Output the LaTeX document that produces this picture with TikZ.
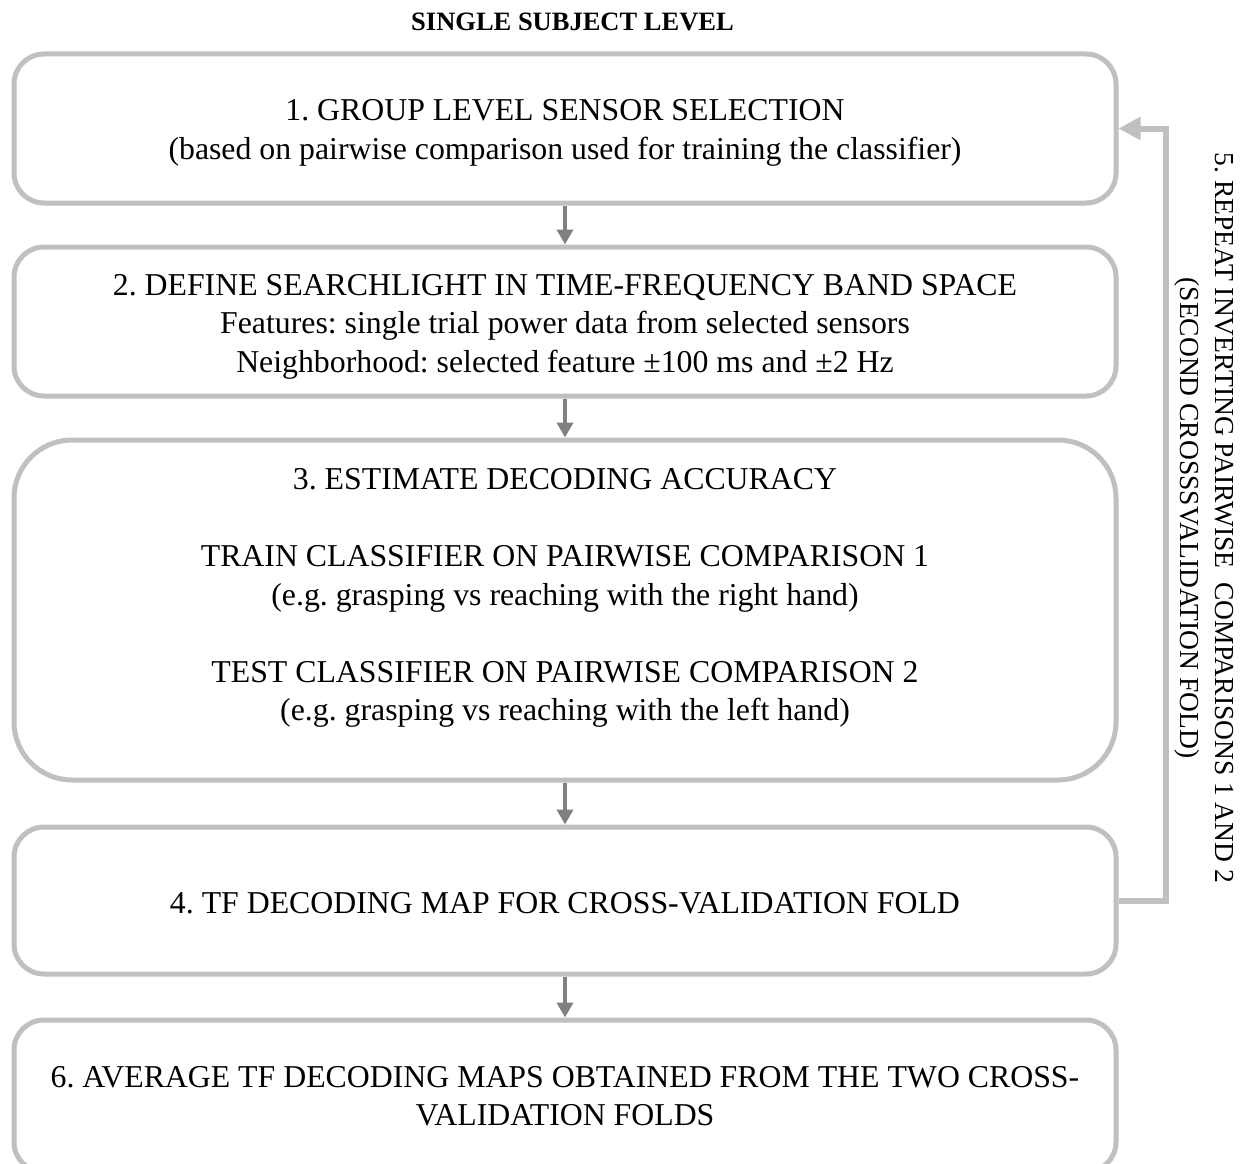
\documentclass[tikz,border=0pt]{standalone}
\usepackage{fontspec}
\setmainfont{Liberation Serif}
\frenchspacing
\usetikzlibrary{arrows.meta}
\definecolor{boxgray}{HTML}{C0C0C0}
\definecolor{arrgray}{HTML}{808080}
\tikzset{
  stepbox/.style={draw=boxgray, line width=5pt, rounded corners=30pt, minimum width=1102pt, inner sep=0pt},
  txt/.style={align=center, inner sep=0pt, font=\fontsize{31.8}{38.5}\selectfont},
  down/.style={draw=arrgray, line width=4pt, -{Triangle[width=16pt,length=15pt]}},
  back/.style={draw=boxgray, line width=6pt, -{Triangle[width=22pt,length=22pt]}},
}
\begin{document}
\begin{tikzpicture}[x=1pt,y=-1pt]
\useasboundingbox (0,0) rectangle (1247,1164);
\clip (0,0) rectangle (1247,1164);
\node[inner sep=0pt, font=\fontsize{26.5}{30}\selectfont\bfseries] (title) at (572.5,22) {SINGLE SUBJECT LEVEL};
\node[stepbox, minimum height=149pt] (b1) at (565,128.5) {};
\node[stepbox, minimum height=149pt] (b2) at (565,321.5) {};
\node[stepbox, minimum height=340pt, rounded corners=58pt] (b3) at (565,610) {};
\node[stepbox, minimum height=147pt] (b4) at (565,900.5) {};
\node[stepbox, minimum height=152pt] (b6) at (565,1096) {};
\node[txt] (t1) at (565,133) {1. GROUP LEVEL SENSOR SELECTION\\(based on pairwise comparison used for training the classifier)};
\node[txt] (t2) at (565,326.5) {2. DEFINE SEARCHLIGHT IN TIME-FREQUENCY BAND SPACE\\Features: single trial power data from selected sensors\\Neighborhood: selected feature ±100 ms and ±2 Hz};
\node[txt] (t3) at (565,598) {3. ESTIMATE DECODING ACCURACY\\[38.5pt]TRAIN CLASSIFIER ON PAIRWISE COMPARISON 1\\(e.g. grasping vs reaching with the right hand)\\[38.5pt]TEST CLASSIFIER ON PAIRWISE COMPARISON 2\\(e.g. grasping vs reaching with the left hand)};
\node[txt] (t4) at (565,903.5) {4. TF DECODING MAP FOR CROSS-VALIDATION FOLD};
\node[txt] (t6) at (565,1096) {6. AVERAGE TF DECODING MAPS OBTAINED FROM THE TWO CROSS-\\VALIDATION FOLDS};
\node[txt, rotate=-90, font=\fontsize{27.5}{35}\selectfont] (rep) at (1204,518) {5. REPEAT INVERTING PAIRWISE~ COMPARISONS 1 AND 2\\(SECOND CROSSSVALIDATION FOLD)};
\draw[down] (b1.south) -- (b2.north);
\draw[down] (b2.south) -- (b3.north);
\draw[down] (b3.south) -- (b4.north);
\draw[down] (b4.south) -- (b6.north);
\coordinate (corner) at (1166,900.5);
\draw[back] (b4.east) -- (corner) |- (b1.east);
\end{tikzpicture}
\end{document}
